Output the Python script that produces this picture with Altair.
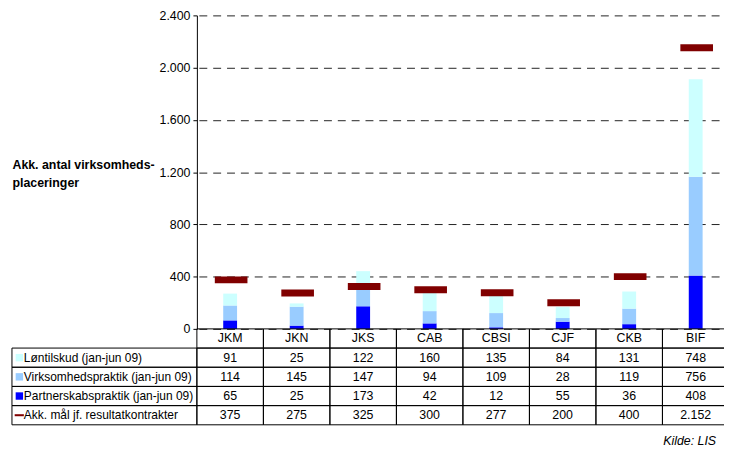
import altair as alt
import pandas as pd

# ---- data ----
cats = ["JKM", "JKN", "JKS", "CAB", "CBSI", "CJF", "CKB", "BIF"]
series_names = ["Løntilskud (jan-jun 09)", "Virksomhedspraktik (jan-jun 09)", "Partnerskabspraktik (jan-jun 09)"]
target_name = "Akk. mål jf. resultatkontrakter"
lontilskud = [91, 25, 122, 160, 135, 84, 131, 748]
virksomhed = [114, 145, 147, 94, 109, 28, 119, 756]
partnerskab = [65, 25, 173, 42, 12, 55, 36, 408]
maal = [375, 275, 325, 300, 277, 200, 400, 2152]
y_ticks = [0, 400, 800, 1200, 1600, 2000, 2400]
y_title = ["Akk. antal virksomheds-", "placeringer"]
source_note = "Kilde: LIS"

colors = ["#CCFFFF", "#99CCFF", "#0000FF"]
target_color = "#800000"
FONT = "Liberation Sans"
FS = 12.5
FS_LABEL = 12.1


def fmt(v):
    return f"{v:,}".replace(",", ".")


bar_rows = []
for i, c in enumerate(cats):
    for s, vals, o in [(series_names[2], partnerskab, 0),
                       (series_names[1], virksomhed, 1),
                       (series_names[0], lontilskud, 2)]:
        bar_rows.append({"cat": c, "series": s, "value": vals[i], "order": o})
bars_df = pd.DataFrame(bar_rows)
target_df = pd.DataFrame({"cat": cats, "value": maal})

row_keys = ["header"] + series_names + [target_name]
table_rows = []
for i, c in enumerate(cats):
    table_rows.append({"cat": c, "row": "header", "text": c})
    for name, vals in zip(series_names + [target_name], [lontilskud, virksomhed, partnerskab, maal]):
        table_rows.append({"cat": c, "row": name, "text": fmt(vals[i])})
table_df = pd.DataFrame(table_rows)
label_df = pd.DataFrame({"row": series_names + [target_name]})
sym_df = pd.DataFrame({"row": series_names})
tsym_df = pd.DataFrame({"row": [target_name]})

# ---- scales ----
xs = alt.Scale(domain=cats, range=[0, 538], paddingInner=0, paddingOuter=0)
ys = alt.Scale(domain=[0, 2400], range=[317, 0], nice=False)
ts = alt.Scale(domain=row_keys, range=[317, 414], paddingInner=0, paddingOuter=0)
cs = alt.Scale(domain=series_names, range=colors)

X = alt.X("cat:N", scale=xs, sort=cats, axis=None)

bars = alt.Chart(bars_df).mark_bar(width=14).encode(
    x=X,
    y=alt.Y("value:Q", stack="zero", scale=ys,
            axis=alt.Axis(values=y_ticks,
                          labelExpr="replace(format(datum.value, ','), ',', '.')",
                          title=y_title, titleAngle=0, titleAlign="left",
                          titleBaseline="top", titleX=-187, titleY=145,
                          titleFontWeight="bold", titleFontSize=FS, titleFont=FONT,
                          titleLineHeight=18, titleColor="black",
                          labelFontSize=FS, labelFont=FONT, labelColor="black",
                          labelPadding=3, tickSize=4, tickColor="black",
                          domainColor="black", domainWidth=1,
                          grid=True, gridColor="#222222", gridDash=[8, 6],
                          gridDashOffset=12, gridWidth=1)),
    color=alt.Color("series:N", scale=cs, legend=None),
    order=alt.Order("order:Q"),
)

targets = alt.Chart(target_df).mark_tick(color=target_color, thickness=7, size=33,
                                         xOffset=1, opacity=1).encode(
    x=X,
    y=alt.Y("value:Q", scale=ys),
)

main = alt.layer(bars, targets)

TY = alt.Y("row:N", scale=ts, axis=None)

cells = alt.Chart(table_df).mark_rect(fill="white", fillOpacity=0, stroke="black",
                                      strokeWidth=1).encode(x=X, y=TY)
cell_text = alt.Chart(table_df).mark_text(fontSize=FS, font=FONT, color="black").encode(
    x=X, y=TY, text="text:N")
label_cells = alt.Chart(label_df).mark_rect(fill="white", fillOpacity=0, stroke="black",
                                            strokeWidth=1).encode(
    x=alt.value(-187), x2=alt.value(0), y=TY)
label_text = alt.Chart(label_df).mark_text(fontSize=FS_LABEL, font=FONT, color="black",
                                           align="left").encode(
    x=alt.value(-175), y=TY, text="row:N")
syms = alt.Chart(sym_df).mark_square(size=56, opacity=1).encode(
    x=alt.value(-179.5), y=TY, color=alt.Color("row:N", scale=cs, legend=None))
tsym = alt.Chart(tsym_df).mark_point(shape="M-1,-0.22L1,-0.22L1,0.22L-1,0.22Z",
                                     filled=True, size=86, color=target_color,
                                     opacity=1).encode(
    x=alt.value(-179.6), y=TY)

table = alt.layer(cells, label_cells, cell_text, label_text, syms, tsym)

chart = alt.layer(main, table).resolve_scale(y="independent").properties(
    width=533, height=414,
    padding={"left": 191, "top": 5, "right": 0, "bottom": 22},
    autosize=alt.AutoSizeParams(type="none"),
    title=alt.Title(source_note, orient="bottom", anchor="end", frame="group",
                    fontStyle="italic", fontWeight="normal", fontSize=FS,
                    font=FONT, color="black", offset=10, dx=-8),
).configure(font=FONT).configure_view(stroke=None)

chart.save("out.html", embed_options={"renderer": "svg", "actions": False})
